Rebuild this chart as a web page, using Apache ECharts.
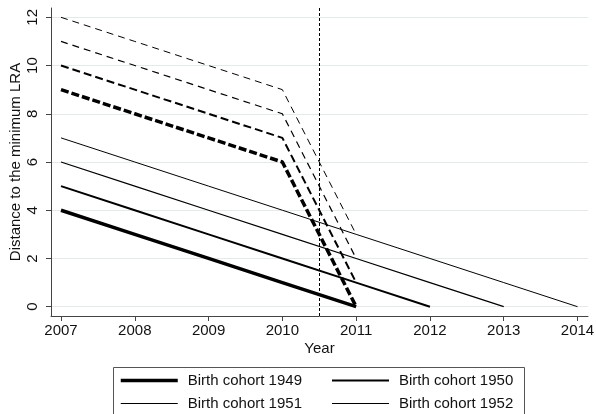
<!DOCTYPE html>
<html>
<head>
<meta charset="utf-8">
<script src="https://cdn.jsdelivr.net/npm/echarts@6/dist/echarts.min.js"></script>
<style>
  html, body { margin: 0; padding: 0; background: #fff; }
  #chart { width: 596px; height: 414px; }
</style>
</head>
<body>
<div id="chart"></div>
<script>
// Years on the horizontal axis
var years = [2007, 2008, 2009, 2010, 2011, 2012, 2013, 2014];
var yTicks = [0, 2, 4, 6, 8, 10, 12];

// Distance to the minimum LRA under the new rule (solid lines)
var cohort1949 = [4, 3, 2, 1, 0];
var cohort1950 = [5, 4, 3, 2, 1, 0];
var cohort1951 = [6, 5, 4, 3, 2, 1, 0];
var cohort1952 = [7, 6, 5, 4, 3, 2, 1, 0];

// Distance under the previous rule until the 2011 reform (dashed lines)
var oldYears = [2007, 2008, 2009, 2010, 2011];
var old1949 = [9, 8, 7, 6, 0];
var old1950 = [10, 9, 8, 7, 1];
var old1951 = [11, 10, 9, 8, 2];
var old1952 = [12, 11, 10, 9, 3];

// Reform date marker
var reformYear = 2010.5;

var cohortNames = ['Birth cohort 1949', 'Birth cohort 1950', 'Birth cohort 1951', 'Birth cohort 1952'];
var widths = [3.5, 2, 1.2, 1];
var dashes = [[8, 3], [8, 4], [7, 5], [7, 5]];

function pairs(xs, ys) {
  return ys.map(function (v, i) { return [xs[i], v]; });
}

var FONT = 'Liberation Sans';
var series = [];
var solid = [cohort1949, cohort1950, cohort1951, cohort1952];
var dashed = [old1949, old1950, old1951, old1952];

solid.forEach(function (vals, i) {
  series.push({
    name: cohortNames[i],
    type: 'line',
    data: pairs(years, vals),
    symbol: 'none',
    lineStyle: { color: '#000', width: widths[i], type: 'solid' },
    itemStyle: { color: '#000' },
    z: 3
  });
});
dashed.forEach(function (vals, i) {
  series.push({
    name: cohortNames[i] + ' (old rule)',
    type: 'line',
    data: pairs(oldYears, vals),
    symbol: 'none',
    lineStyle: { color: '#000', width: widths[i], type: dashes[i] },
    itemStyle: { color: '#000' },
    z: 3
  });
});
// Vertical dotted line at the reform date
series[0].markLine = {
  silent: true,
  symbol: 'none',
  label: { show: false },
  lineStyle: { color: '#000', width: 1, type: [3, 2] },
  data: [{ xAxis: reformYear }]
};

function legendBlock(idx, left) {
  return {
    data: idx.map(function (i) {
      return { name: cohortNames[i], lineStyle: { width: widths[i], color: '#000' } };
    }),
    orient: 'vertical',
    left: left, top: 373,
    padding: 0,
    itemGap: 8,
    itemWidth: 57, itemHeight: 14,
    selectedMode: false,
    itemStyle: { opacity: 0 },
    textStyle: { color: '#111', fontSize: 15, fontFamily: FONT, padding: [0, 0, 0, 5] }
  };
}

var chart = echarts.init(document.getElementById('chart'), null, { renderer: 'canvas' });
chart.setOption({
  animation: false,
  backgroundColor: '#fff',
  textStyle: { fontFamily: FONT },
  grid: { left: 51, right: 8, top: 8, bottom: 98, containLabel: false, outerBoundsMode: 'none' },
  xAxis: {
    type: 'value',
    min: 2006.8645,
    max: 2014.142,
    name: 'Year',
    nameLocation: 'middle',
    nameGap: 25,
    nameMoveOverlap: false,
    nameTextStyle: { color: '#111', fontSize: 15, fontFamily: FONT },
    axisLine: { show: true, onZero: false, lineStyle: { color: '#444', width: 1 } },
    axisTick: { show: true, length: 5, lineStyle: { color: '#444' }, customValues: years },
    axisLabel: { color: '#111', fontSize: 15, fontFamily: FONT, margin: 7, customValues: years,
      formatter: function (v) { return String(v); } },
    splitLine: { show: false }
  },
  yAxis: {
    type: 'value',
    min: -0.386,
    max: 12.386,
    name: 'Distance to the minimum LRA',
    nameLocation: 'middle',
    nameGap: 28,
    nameRotate: 90,
    nameMoveOverlap: false,
    nameTextStyle: { color: '#111', fontSize: 15, fontFamily: FONT },
    axisLine: { show: true, onZero: false, lineStyle: { color: '#444', width: 1 } },
    axisTick: { show: true, length: 5, lineStyle: { color: '#444' }, customValues: yTicks },
    axisLabel: { color: '#111', fontSize: 15, fontFamily: FONT, rotate: 90, margin: 11, customValues: yTicks },
    splitLine: { show: true, lineStyle: { color: '#e3eaea', width: 1 } }
  },
  legend: [
    legendBlock([0, 2], 119),
    legendBlock([1, 3], 331)
  ],
  graphic: [{
    type: 'rect',
    silent: true,
    shape: { x: 113.5, y: 367.5, width: 411, height: 60 },
    style: { fill: 'none', stroke: '#555', lineWidth: 1 }
  }],
  series: series
});
</script>
</body>
</html>
